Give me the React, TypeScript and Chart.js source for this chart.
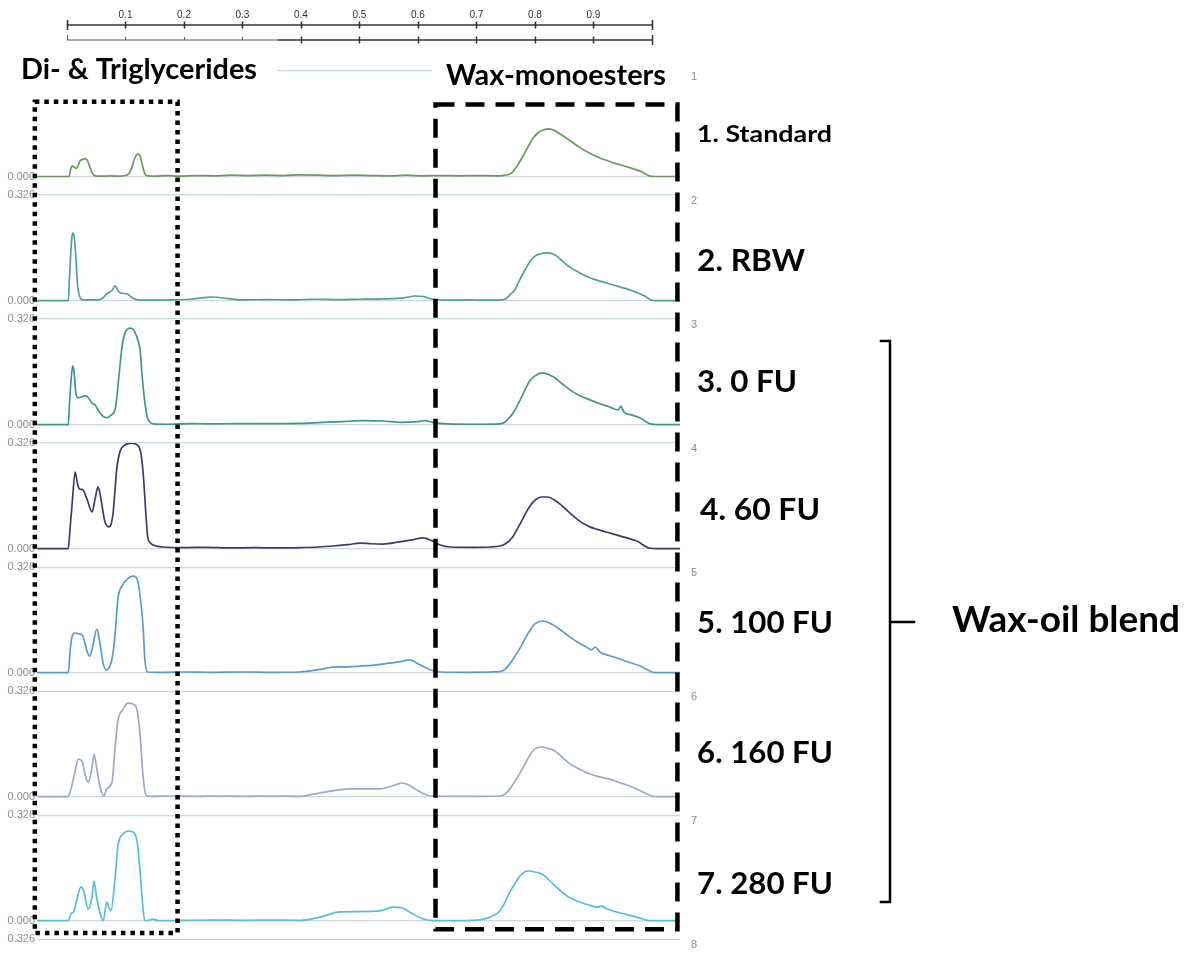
import React, { useEffect, useRef } from 'react';
import { Chart, registerables } from 'chart.js';

Chart.register(...registerables);

type Pt = [number, number];

// ---------- text / ticks ----------
const rulerTicks = [0, 0.1, 0.2, 0.3, 0.4, 0.5, 0.6, 0.7, 0.8, 0.9, 1.0];
const rulerLabels = ['0.1', '0.2', '0.3', '0.4', '0.5', '0.6', '0.7', '0.8', '0.9'];
const yTickValues = [0, 0.326];
const panelNumbers = ['1', '2', '3', '4', '5', '6', '7', '8'];
const sampleLabels = ['1. Standard', '2. RBW', '3. 0 FU', '4. 60 FU', '5. 100 FU', '6. 160 FU', '7. 280 FU'];
const regionLabels = ['Di- & Triglycerides', 'Wax-monoesters'];
const groupLabel = 'Wax-oil blend';
const traceColors = ['#6a9a5c', '#4ea394', '#3f988a', '#3d3c70', '#5b9bd0', '#9ea9c9', '#52c0d6'];

// ---------- series (x = scan position, y = detector response) ----------
const standard: Pt[] = [
  [-0.051, 0.001], [-0.02, 0.001], [0.0, 0.001], [0.004, 0.002], [0.006, 0.022], [0.009, 0.033], [0.012, 0.030],
  [0.016, 0.026], [0.019, 0.034], [0.022, 0.049], [0.026, 0.053], [0.031, 0.056], [0.035, 0.050], [0.039, 0.030],
  [0.043, 0.012], [0.048, 0.003], [0.060, 0.002], [0.075, 0.003], [0.090, 0.002], [0.100, 0.004], [0.106, 0.010],
  [0.111, 0.030], [0.116, 0.058], [0.121, 0.071], [0.125, 0.064], [0.129, 0.035], [0.133, 0.010], [0.138, 0.003],
  [0.150, 0.002], [0.170, 0.004], [0.190, 0.002], [0.220, 0.004], [0.250, 0.003], [0.280, 0.005], [0.310, 0.004],
  [0.340, 0.005], [0.370, 0.004], [0.400, 0.006], [0.430, 0.005], [0.460, 0.004], [0.490, 0.005], [0.520, 0.004],
  [0.550, 0.003], [0.580, 0.005], [0.610, 0.003], [0.640, 0.004], [0.670, 0.003], [0.700, 0.004], [0.730, 0.003],
  [0.745, 0.004], [0.755, 0.007], [0.762, 0.015], [0.770, 0.035], [0.779, 0.062], [0.788, 0.092], [0.797, 0.120],
  [0.805, 0.135], [0.812, 0.143], [0.822, 0.148], [0.832, 0.144], [0.843, 0.132], [0.855, 0.118], [0.865, 0.105],
  [0.877, 0.090], [0.889, 0.077], [0.900, 0.067], [0.911, 0.058], [0.925, 0.049], [0.940, 0.040], [0.955, 0.032],
  [0.968, 0.025], [0.983, 0.015], [0.992, 0.006], [0.997, 0.002], [1.005, 0.001], [1.048, 0.001],
];

const rbw: Pt[] = [
  [-0.051, 0.001], [-0.02, 0.001], [0.0, 0.001], [0.002, 0.002], [0.005, 0.100], [0.008, 0.190], [0.010, 0.209],
  [0.012, 0.200], [0.015, 0.140], [0.018, 0.050], [0.022, 0.012], [0.027, 0.003], [0.040, 0.003], [0.056, 0.004],
  [0.062, 0.010], [0.068, 0.022], [0.077, 0.032], [0.082, 0.046], [0.087, 0.032], [0.091, 0.025], [0.103, 0.021],
  [0.113, 0.008], [0.122, 0.003], [0.150, 0.002], [0.180, 0.003], [0.210, 0.005], [0.235, 0.010], [0.250, 0.012],
  [0.270, 0.008], [0.300, 0.003], [0.340, 0.004], [0.380, 0.003], [0.420, 0.005], [0.460, 0.004], [0.500, 0.005],
  [0.540, 0.006], [0.575, 0.009], [0.595, 0.015], [0.610, 0.013], [0.625, 0.005], [0.650, 0.002], [0.690, 0.003],
  [0.720, 0.002], [0.740, 0.003], [0.749, 0.006], [0.757, 0.018], [0.766, 0.035], [0.774, 0.065], [0.783, 0.095],
  [0.791, 0.120], [0.800, 0.138], [0.809, 0.145], [0.822, 0.148], [0.834, 0.142], [0.843, 0.129], [0.855, 0.110],
  [0.868, 0.095], [0.881, 0.082], [0.894, 0.071], [0.911, 0.061], [0.928, 0.052], [0.945, 0.043], [0.962, 0.034],
  [0.975, 0.025], [0.988, 0.015], [1.000, 0.002], [1.010, 0.001], [1.048, 0.001],
];

const fu0: Pt[] = [
  [-0.051, 0.001], [-0.02, 0.001], [0.0, 0.001], [0.002, 0.002], [0.005, 0.090], [0.008, 0.160], [0.010, 0.182],
  [0.012, 0.165], [0.015, 0.100], [0.019, 0.083], [0.026, 0.087], [0.032, 0.090], [0.037, 0.082], [0.043, 0.066],
  [0.048, 0.062], [0.051, 0.052], [0.056, 0.038], [0.062, 0.026], [0.068, 0.022], [0.075, 0.030], [0.082, 0.046],
  [0.085, 0.080], [0.087, 0.117], [0.091, 0.190], [0.094, 0.240], [0.099, 0.283], [0.104, 0.296], [0.108, 0.298],
  [0.113, 0.294], [0.116, 0.286], [0.121, 0.262], [0.125, 0.231], [0.128, 0.160], [0.132, 0.086], [0.135, 0.045],
  [0.137, 0.025], [0.142, 0.008], [0.147, 0.003], [0.170, 0.002], [0.210, 0.004], [0.250, 0.003], [0.300, 0.004],
  [0.350, 0.004], [0.400, 0.005], [0.430, 0.007], [0.470, 0.010], [0.500, 0.013], [0.540, 0.012], [0.570, 0.008],
  [0.600, 0.010], [0.612, 0.013], [0.625, 0.008], [0.650, 0.003], [0.700, 0.002], [0.740, 0.003], [0.749, 0.009],
  [0.757, 0.024], [0.766, 0.046], [0.775, 0.078], [0.783, 0.108], [0.791, 0.135], [0.800, 0.151], [0.812, 0.160],
  [0.822, 0.156], [0.834, 0.145], [0.847, 0.126], [0.860, 0.108], [0.877, 0.090], [0.894, 0.077], [0.911, 0.065],
  [0.928, 0.055], [0.942, 0.046], [0.947, 0.058], [0.952, 0.040], [0.965, 0.031], [0.979, 0.022], [0.990, 0.010],
  [0.997, 0.003], [1.010, 0.001], [1.048, 0.001],
];

const fu60: Pt[] = [
  [-0.051, 0.001], [-0.02, 0.001], [0.0, 0.001], [0.002, 0.002], [0.006, 0.080], [0.009, 0.145], [0.014, 0.237],
  [0.018, 0.200], [0.021, 0.185], [0.027, 0.182], [0.034, 0.154], [0.043, 0.114], [0.048, 0.154], [0.053, 0.191],
  [0.057, 0.165], [0.060, 0.132], [0.065, 0.083], [0.072, 0.068], [0.076, 0.080], [0.079, 0.114], [0.082, 0.180],
  [0.085, 0.246], [0.091, 0.302], [0.099, 0.320], [0.111, 0.326], [0.120, 0.320], [0.126, 0.298], [0.130, 0.237],
  [0.133, 0.160], [0.135, 0.102], [0.138, 0.037], [0.142, 0.020], [0.147, 0.012], [0.164, 0.006], [0.200, 0.004],
  [0.240, 0.005], [0.280, 0.003], [0.320, 0.004], [0.360, 0.003], [0.398, 0.004], [0.430, 0.006], [0.455, 0.009],
  [0.480, 0.013], [0.501, 0.018], [0.520, 0.016], [0.540, 0.015], [0.569, 0.022], [0.590, 0.028], [0.609, 0.034],
  [0.624, 0.025], [0.638, 0.012], [0.655, 0.006], [0.694, 0.005], [0.723, 0.006], [0.740, 0.009], [0.749, 0.015],
  [0.762, 0.037], [0.770, 0.062], [0.779, 0.092], [0.788, 0.122], [0.797, 0.145], [0.805, 0.156], [0.812, 0.160],
  [0.822, 0.160], [0.832, 0.152], [0.843, 0.138], [0.857, 0.115], [0.872, 0.092], [0.883, 0.078], [0.894, 0.068],
  [0.905, 0.061], [0.916, 0.055], [0.930, 0.048], [0.945, 0.040], [0.957, 0.034], [0.968, 0.028], [0.977, 0.022],
  [0.985, 0.012], [0.997, 0.002], [1.010, 0.001], [1.048, 0.001],
];

const fu100: Pt[] = [
  [-0.051, 0.001], [-0.02, 0.001], [0.0, 0.001], [0.002, 0.002], [0.006, 0.080], [0.009, 0.114], [0.014, 0.123],
  [0.019, 0.121], [0.022, 0.120], [0.027, 0.114], [0.031, 0.090], [0.034, 0.068], [0.039, 0.052], [0.044, 0.083],
  [0.051, 0.135], [0.056, 0.095], [0.062, 0.028], [0.068, 0.009], [0.073, 0.020], [0.077, 0.043], [0.082, 0.114],
  [0.087, 0.228], [0.094, 0.268], [0.103, 0.289], [0.113, 0.298], [0.120, 0.289], [0.125, 0.237], [0.130, 0.145],
  [0.133, 0.043], [0.138, 0.003], [0.160, 0.002], [0.200, 0.003], [0.250, 0.002], [0.300, 0.003], [0.350, 0.002],
  [0.398, 0.003], [0.430, 0.010], [0.455, 0.018], [0.480, 0.019], [0.501, 0.021], [0.525, 0.024], [0.550, 0.030],
  [0.570, 0.035], [0.586, 0.040], [0.603, 0.025], [0.621, 0.010], [0.638, 0.003], [0.690, 0.002], [0.740, 0.004],
  [0.749, 0.012], [0.757, 0.028], [0.766, 0.052], [0.775, 0.078], [0.783, 0.105], [0.791, 0.130], [0.800, 0.151],
  [0.812, 0.160], [0.822, 0.156], [0.834, 0.145], [0.847, 0.128], [0.860, 0.111], [0.872, 0.096], [0.885, 0.083],
  [0.897, 0.071], [0.903, 0.080], [0.911, 0.065], [0.928, 0.053], [0.945, 0.043], [0.962, 0.032], [0.979, 0.022],
  [0.990, 0.012], [1.000, 0.003], [1.010, 0.001], [1.048, 0.001],
];

const fu160: Pt[] = [
  [-0.051, 0.001], [-0.02, 0.001], [0.0, 0.001], [0.002, 0.002], [0.009, 0.040], [0.014, 0.080], [0.019, 0.117],
  [0.026, 0.108], [0.032, 0.062], [0.036, 0.046], [0.043, 0.092], [0.046, 0.132], [0.051, 0.086], [0.056, 0.034],
  [0.063, 0.003], [0.068, 0.025], [0.077, 0.046], [0.080, 0.100], [0.082, 0.148], [0.087, 0.234], [0.096, 0.271],
  [0.104, 0.289], [0.113, 0.286], [0.120, 0.265], [0.125, 0.188], [0.130, 0.065], [0.135, 0.006], [0.142, 0.002],
  [0.180, 0.003], [0.220, 0.002], [0.260, 0.003], [0.300, 0.002], [0.350, 0.003], [0.398, 0.002], [0.420, 0.008],
  [0.450, 0.018], [0.484, 0.025], [0.510, 0.025], [0.535, 0.025], [0.561, 0.037], [0.573, 0.043], [0.585, 0.036],
  [0.595, 0.025], [0.610, 0.010], [0.621, 0.003], [0.680, 0.002], [0.740, 0.003], [0.749, 0.009], [0.757, 0.025],
  [0.766, 0.049], [0.775, 0.075], [0.783, 0.102], [0.791, 0.128], [0.800, 0.148], [0.812, 0.154], [0.822, 0.150],
  [0.834, 0.142], [0.847, 0.122], [0.860, 0.102], [0.877, 0.085], [0.894, 0.071], [0.911, 0.062], [0.928, 0.055],
  [0.945, 0.044], [0.962, 0.034], [0.975, 0.024], [0.988, 0.012], [1.000, 0.003], [1.010, 0.001], [1.048, 0.001],
];

const fu280: Pt[] = [
  [-0.051, 0.001], [-0.02, 0.001], [0.0, 0.001], [0.002, 0.001], [0.007, 0.022], [0.012, 0.031], [0.017, 0.068],
  [0.024, 0.105], [0.029, 0.089], [0.036, 0.037], [0.043, 0.077], [0.046, 0.123], [0.051, 0.068], [0.058, 0.015],
  [0.062, 0.001], [0.068, 0.058], [0.072, 0.040], [0.075, 0.031], [0.082, 0.129], [0.087, 0.231], [0.096, 0.268],
  [0.104, 0.277], [0.113, 0.274], [0.120, 0.243], [0.125, 0.151], [0.130, 0.037], [0.133, 0.001], [0.142, 0.003],
  [0.147, 0.006], [0.156, 0.001], [0.200, 0.002], [0.250, 0.003], [0.300, 0.002], [0.350, 0.003], [0.400, 0.002],
  [0.432, 0.012], [0.467, 0.028], [0.500, 0.029], [0.535, 0.031], [0.557, 0.043], [0.573, 0.040], [0.591, 0.022],
  [0.609, 0.006], [0.629, 0.001], [0.694, 0.002], [0.710, 0.005], [0.723, 0.012], [0.740, 0.031], [0.749, 0.058],
  [0.757, 0.089], [0.766, 0.115], [0.774, 0.138], [0.788, 0.154], [0.800, 0.151], [0.812, 0.145], [0.822, 0.130],
  [0.831, 0.114], [0.843, 0.094], [0.855, 0.077], [0.866, 0.066], [0.877, 0.058], [0.891, 0.050], [0.906, 0.043],
  [0.915, 0.046], [0.920, 0.040], [0.933, 0.031], [0.950, 0.023], [0.968, 0.015], [0.983, 0.007], [0.997, 0.001],
  [1.048, 0.001],
];

const traces: Pt[][] = [standard, rbw, fu0, fu60, fu100, fu160, fu280];

// annotation boxes in data units (x on scan axis; top on panel 1, bottom on panel 7)
const lipidBox = { from: -0.055, to: 0.189, top: 0.231, bottom: -0.037 };
const waxBox = { from: 0.630, to: 1.0436, top: 0.223, bottom: -0.025 };

const PANEL_MIN = -0.056;
const PANEL_MAX = 0.326;

function drawStretched(ctx: CanvasRenderingContext2D, text: string, left: number, baseline: number, size: number, width: number) {
  ctx.font = `bold ${size}px Lato, "Open Sans", sans-serif`;
  const w = ctx.measureText(text).width;
  ctx.save();
  ctx.translate(left, baseline);
  ctx.scale(width / w, 1);
  ctx.textAlign = 'left';
  ctx.textBaseline = 'alphabetic';
  ctx.fillStyle = '#000';
  ctx.fillText(text, 0, 0);
  ctx.restore();
}

const overlayPlugin = {
  id: 'overlay',
  afterDraw(chart: any) {
    const ctx: CanvasRenderingContext2D = chart.ctx;
    const xs = chart.scales.x;
    const area = chart.chartArea;
    const p1 = chart.scales.p1;
    const p7 = chart.scales.p7;
    ctx.save();

    // ---- ruler ----
    const r0 = xs.getPixelForValue(0);
    const r1 = xs.getPixelForValue(1);
    const yA = area.top - 46;
    const yB = area.top - 31;
    ctx.strokeStyle = '#333';
    ctx.lineWidth = 1.6;
    ctx.beginPath();
    ctx.moveTo(r0, yA);
    ctx.lineTo(r1, yA);
    ctx.stroke();
    rulerTicks.forEach((t, i) => {
      const px = Math.round(xs.getPixelForValue(t)) + 0.5;
      const h = i === 0 || i === rulerTicks.length - 1 ? 5 : 3.5;
      ctx.beginPath();
      ctx.moveTo(px, yA - h);
      ctx.lineTo(px, yA + h);
      ctx.stroke();
    });
    // second line
    const split = xs.getPixelForValue(0.36);
    ctx.strokeStyle = '#5a5a5a';
    ctx.lineWidth = 1.1;
    ctx.beginPath();
    ctx.moveTo(r0, yB);
    ctx.lineTo(split, yB);
    ctx.stroke();
    ctx.strokeStyle = '#333';
    ctx.lineWidth = 1.6;
    ctx.beginPath();
    ctx.moveTo(split, yB);
    ctx.lineTo(r1, yB);
    ctx.stroke();
    rulerTicks.forEach((t, i) => {
      const px = Math.round(xs.getPixelForValue(t)) + 0.5;
      ctx.beginPath();
      if (i === 0) {
        ctx.strokeStyle = '#5a5a5a';
        ctx.lineWidth = 1.1;
        ctx.moveTo(px, yB - 5);
        ctx.lineTo(px, yB);
      } else if (t < 0.36) {
        ctx.strokeStyle = '#5a5a5a';
        ctx.lineWidth = 1.1;
        ctx.moveTo(px, yB - 3);
        ctx.lineTo(px, yB);
      } else {
        ctx.strokeStyle = '#333';
        ctx.lineWidth = 1.5;
        const h = i === rulerTicks.length - 1 ? 5 : 3.5;
        ctx.moveTo(px, yB - h);
        ctx.lineTo(px, yB + h);
      }
      ctx.stroke();
    });
    ctx.fillStyle = '#333';
    ctx.font = '10px "Liberation Sans Narrow", "Liberation Sans", sans-serif';
    ctx.textAlign = 'center';
    ctx.textBaseline = 'middle';
    rulerLabels.forEach((lab) => {
      ctx.fillText(lab, xs.getPixelForValue(parseFloat(lab)), area.top - 56);
    });

    // ---- white backgrounds behind region labels ----
    ctx.fillStyle = '#fff';
    ctx.fillRect(0, area.top - 20, 277, 40);
    ctx.fillRect(432, area.top - 20, 252, 46);

    // ---- dotted lipid box ----
    ctx.strokeStyle = '#000';
    ctx.lineWidth = 4.5;
    ctx.lineCap = 'butt';
    ctx.setLineDash([4.5, 5]);
    {
      const x0 = xs.getPixelForValue(lipidBox.from);
      const x1 = xs.getPixelForValue(lipidBox.to);
      const y0 = p1.getPixelForValue(lipidBox.top);
      const y1 = p7.getPixelForValue(lipidBox.bottom);
      ctx.strokeRect(x0, y0, x1 - x0, y1 - y0);
    }
    // ---- dashed wax box ----
    ctx.setLineDash([19, 11]);
    {
      const x0 = xs.getPixelForValue(waxBox.from);
      const x1 = xs.getPixelForValue(waxBox.to);
      const y0 = p1.getPixelForValue(waxBox.top);
      const y1 = p7.getPixelForValue(waxBox.bottom);
      ctx.strokeRect(x0, y0, x1 - x0, y1 - y0);
    }
    ctx.setLineDash([]);

    // ---- panel numbers ----
    ctx.fillStyle = '#8a8a8a';
    ctx.font = '11px "Liberation Sans", sans-serif';
    ctx.textAlign = 'center';
    ctx.textBaseline = 'middle';
    panelNumbers.forEach((n, i) => {
      const sc = chart.scales['p' + (i + 1)];
      ctx.fillText(n, area.right + 14, sc.getPixelForValue(PANEL_MAX) + 6);
    });

    // ---- labels ----
    drawStretched(ctx, regionLabels[0], 21, 79, 29, 236);
    drawStretched(ctx, regionLabels[1], 446, 85, 29, 220);
    const sampleLayout = [
      [697, 142, 23, 135],
      [697, 271, 31, 108],
      [697, 392, 31, 100],
      [700, 520, 31, 120],
      [697, 633, 31, 136],
      [697, 763, 31, 136],
      [697, 894, 31, 136],
    ];
    sampleLabels.forEach((s, i) => {
      const [lx, ly, size, w] = sampleLayout[i];
      drawStretched(ctx, s, lx, ly, size, w);
    });
    drawStretched(ctx, groupLabel, 952, 632, 36, 228);

    // ---- bracket ----
    ctx.strokeStyle = '#000';
    ctx.lineWidth = 2.5;
    ctx.lineCap = 'square';
    ctx.beginPath();
    ctx.moveTo(881, 341);
    ctx.lineTo(890, 341);
    ctx.lineTo(890, 902);
    ctx.lineTo(881, 902);
    ctx.moveTo(890, 622);
    ctx.lineTo(914, 622);
    ctx.stroke();

    ctx.restore();
  },
};

function panelScale(i: number, last: boolean) {
  return {
    type: 'linear',
    position: 'left',
    stack: 'panels',
    stackWeight: last ? 0.042 : 1,
    weight: 10 - i,
    min: last ? 0.31 : PANEL_MIN,
    max: PANEL_MAX,
    afterBuildTicks: (s: any) => {
      s.ticks = (last ? [PANEL_MAX] : yTickValues).map((v) => ({ value: v }));
    },
    afterFit: (s: any) => {
      s.width = 37;
    },
    border: { display: false },
    grid: {
      drawTicks: false,
      lineWidth: 1.2,
      color: (c: any) => (c.tick && c.tick.value === 0 ? '#cfd9db' : '#c4dbe1'),
    },
    ticks: {
      padding: 2,
      color: '#8c8c8c',
      font: { family: '"Liberation Sans", sans-serif', size: 11 },
      callback: (v: any) => Number(v).toFixed(3),
    },
  };
}

export default function App() {
  const ref = useRef<HTMLCanvasElement>(null);

  useEffect(() => {
    const canvas = ref.current;
    if (!canvas) return;
    const scales: any = {
      x: { type: 'linear', min: -0.0513, max: 1.048, display: false },
    };
    for (let i = 0; i < 8; i++) scales['p' + (i + 1)] = panelScale(i, i === 7);

    const chart = new Chart(canvas, {
      type: 'line',
      data: {
        datasets: traces.map((tr, i) => ({
          label: sampleLabels[i],
          data: tr.map(([x, y]) => ({ x, y })),
          xAxisID: 'x',
          yAxisID: 'p' + (i + 1),
          borderColor: traceColors[i],
          borderWidth: 1.7,
          pointRadius: 0,
          fill: false,
          cubicInterpolationMode: 'monotone' as const,
        })),
      },
      options: {
        animation: false,
        responsive: false,
        devicePixelRatio: 1,
        layout: { padding: { top: 71, right: 505, bottom: 8, left: 0 } },
        plugins: { legend: { display: false }, tooltip: { enabled: false } },
        scales,
      },
      plugins: [overlayPlugin],
    } as any);
    return () => chart.destroy();
  }, []);

  return (
    <div style={{ position: 'fixed', left: 0, top: 0, width: 1185, height: 953, background: '#fff' }}>
      <canvas ref={ref} width={1185} height={953} style={{ display: 'block', width: 1185, height: 953 }} />
    </div>
  );
}
